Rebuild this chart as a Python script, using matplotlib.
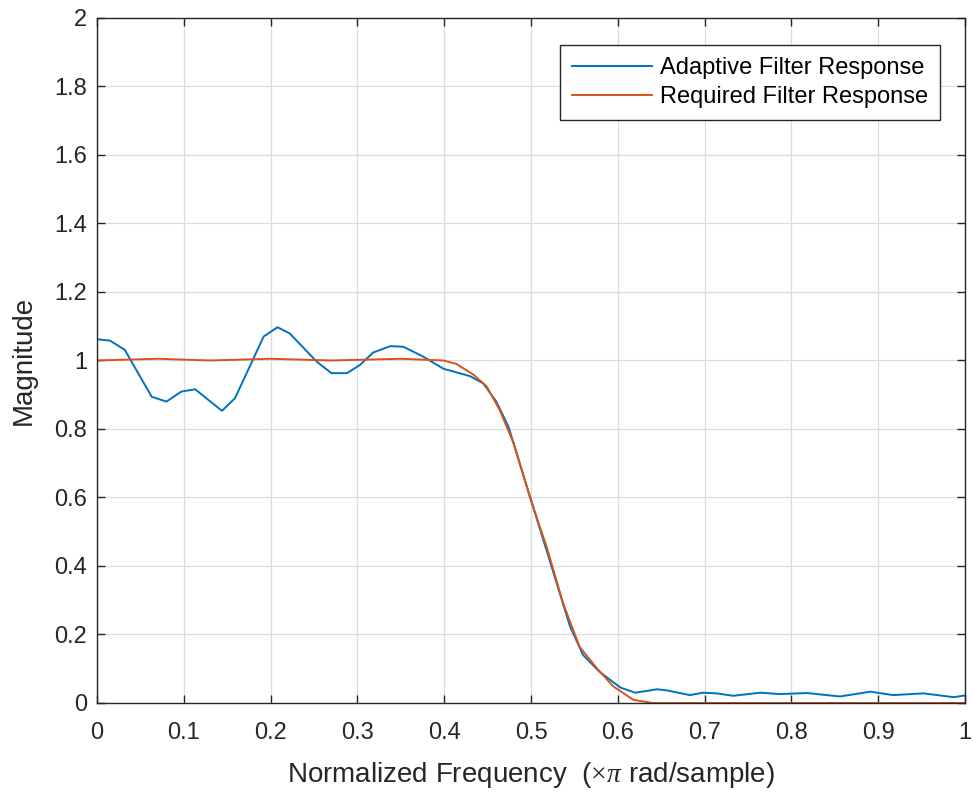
import numpy as np
import matplotlib.pyplot as plt

plt.rcParams['font.family'] = ['Liberation Sans', 'DejaVu Sans']
plt.rcParams['mathtext.fontset'] = 'custom'
plt.rcParams['mathtext.rm'] = 'Liberation Serif'
plt.rcParams['mathtext.it'] = 'Liberation Serif:italic'

# Adaptive filter magnitude response
adaptive_freq = [0.0, 0.015, 0.032, 0.063, 0.080, 0.097, 0.113, 0.144, 0.159, 0.192,
                 0.208, 0.222, 0.253, 0.270, 0.288, 0.303, 0.318, 0.338, 0.353, 0.376,
                 0.399, 0.430, 0.445, 0.460, 0.474, 0.500, 0.526, 0.545, 0.560, 0.579,
                 0.603, 0.620, 0.645, 0.656, 0.683, 0.698, 0.714, 0.733, 0.764, 0.787,
                 0.818, 0.856, 0.891, 0.917, 0.952, 0.987, 1.0]
adaptive_mag = [1.062, 1.058, 1.031, 0.894, 0.880, 0.909, 0.916, 0.853, 0.890, 1.070,
                1.097, 1.079, 0.997, 0.963, 0.963, 0.987, 1.023, 1.042, 1.040, 1.011,
                0.976, 0.954, 0.933, 0.880, 0.807, 0.593, 0.379, 0.223, 0.140, 0.091,
                0.045, 0.030, 0.040, 0.037, 0.023, 0.030, 0.028, 0.021, 0.030, 0.026,
                0.029, 0.019, 0.033, 0.023, 0.028, 0.017, 0.022]

# Required filter magnitude response
required_freq = [0.0, 0.07, 0.13, 0.20, 0.27, 0.35, 0.399, 0.414, 0.434, 0.449,
                 0.464, 0.480, 0.500, 0.518, 0.537, 0.556, 0.576, 0.595, 0.618, 0.64, 1.0]
required_mag = [1.0, 1.005, 1.0, 1.005, 1.0, 1.005, 1.0, 0.990, 0.958, 0.924,
                0.855, 0.758, 0.590, 0.456, 0.291, 0.164, 0.101, 0.048, 0.009, 0.0, 0.0]

fig = plt.figure(figsize=(9.73, 7.92), dpi=100)
ax = fig.add_axes([0.0997, 0.1124, 0.8921, 0.8649])

ax.plot(adaptive_freq, adaptive_mag, color='#0072BD', lw=1.4, label='Adaptive Filter Response')
ax.plot(required_freq, required_mag, color='#D95319', lw=1.4, label='Required Filter Response')

ax.set_xlim(0, 1)
ax.set_ylim(0, 2)
ax.set_xticks(np.arange(0, 1.01, 0.1))
ax.set_xticklabels(['0', '0.1', '0.2', '0.3', '0.4', '0.5', '0.6', '0.7', '0.8', '0.9', '1'])
ax.set_yticks(np.arange(0, 2.01, 0.2))
ax.set_yticklabels(['0', '0.2', '0.4', '0.6', '0.8', '1', '1.2', '1.4', '1.6', '1.8', '2'])
ax.grid(True, color='#dcdcdc', lw=0.9)
ax.tick_params(direction='in', top=True, right=True, labelsize=17, colors='#262626',
               length=6, width=1.0)
ax.tick_params(axis='x', pad=14)
ax.tick_params(axis='y', pad=7)
for s in ax.spines.values():
    s.set_color('#262626')
    s.set_linewidth(1.0)

ax.set_xlabel(r'Normalized Frequency  ($\times\pi$ rad/sample)', fontsize=20,
              color='#262626', labelpad=11)
ax.set_ylabel('Magnitude', fontsize=20, color='#262626', labelpad=13)

leg = ax.legend(loc='upper right', bbox_to_anchor=(0.9712, 0.9606), fontsize=17,
                fancybox=False, framealpha=1, edgecolor='#262626', handlelength=3.4,
                handletextpad=0.35, labelspacing=0.3, borderpad=0.5, borderaxespad=0)
leg.get_frame().set_linewidth(1.0)

fig.savefig('out.png', dpi=100)
